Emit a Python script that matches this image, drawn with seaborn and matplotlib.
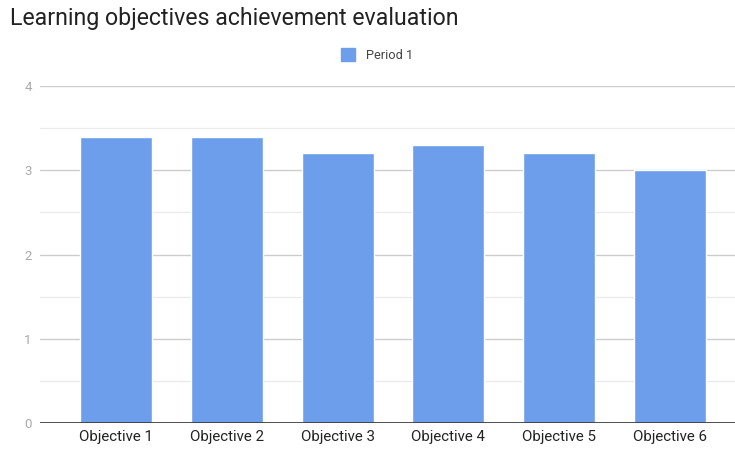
import pandas as pd
import numpy as np
import matplotlib.pyplot as plt
import seaborn as sns
from matplotlib.patches import Patch

objectives = ['Objective 1', 'Objective 2', 'Objective 3', 'Objective 4', 'Objective 5', 'Objective 6']
period1 = [3.4, 3.4, 3.2, 3.3, 3.2, 3.0]
yticks = [0, 1, 2, 3, 4]

df = pd.DataFrame({'objective': objectives, 'score': period1})

sns.set_style('white')
plt.rcParams['font.family'] = ['Roboto', 'DejaVu Sans']

bar_color = '#6d9eeb'

fig = plt.figure(figsize=(7.35, 4.49), dpi=100)
ax = fig.add_axes([40/735, 26/449, 695/735, 337/449])

sns.barplot(data=df, x='objective', y='score', color=bar_color, width=0.65,
            saturation=1, ax=ax, zorder=3)

ax.set_ylim(0, 4)
ax.set_xlim(-0.686, 5.587)
ax.set_yticks(yticks)
ax.set_yticks(np.arange(0.5, 4, 1), minor=True)
ax.grid(True, axis='y', which='major', color='#cccccc', linewidth=1, zorder=0)
ax.grid(True, axis='y', which='minor', color='#ebebeb', linewidth=1, zorder=0)
ax.axhline(0, color='#333333', linewidth=1.2, zorder=4)

for s in ax.spines.values():
    s.set_visible(False)

ax.tick_params(axis='y', which='both', length=0, pad=6, labelsize=9.5, labelcolor='#aaaaaa')
ax.tick_params(axis='x', length=0, pad=5, labelsize=10.8, labelcolor='#222222')
ax.set_xlabel('')
ax.set_ylabel('')

fig.text(10/735, 1 - 18/449, 'Learning objectives achievement evaluation',
         fontsize=16.7, color='#222222', va='center', ha='left')

leg = fig.legend(handles=[Patch(color=bar_color, label='Period 1')],
                 loc='center', bbox_to_anchor=(377/735, 1 - 55/449),
                 frameon=False, fontsize=9.2, handlelength=1.1, handleheight=1.1,
                 handletextpad=0.9)
for t in leg.get_texts():
    t.set_color('#444444')

fig.savefig('out.png', dpi=100)
plt.close()
